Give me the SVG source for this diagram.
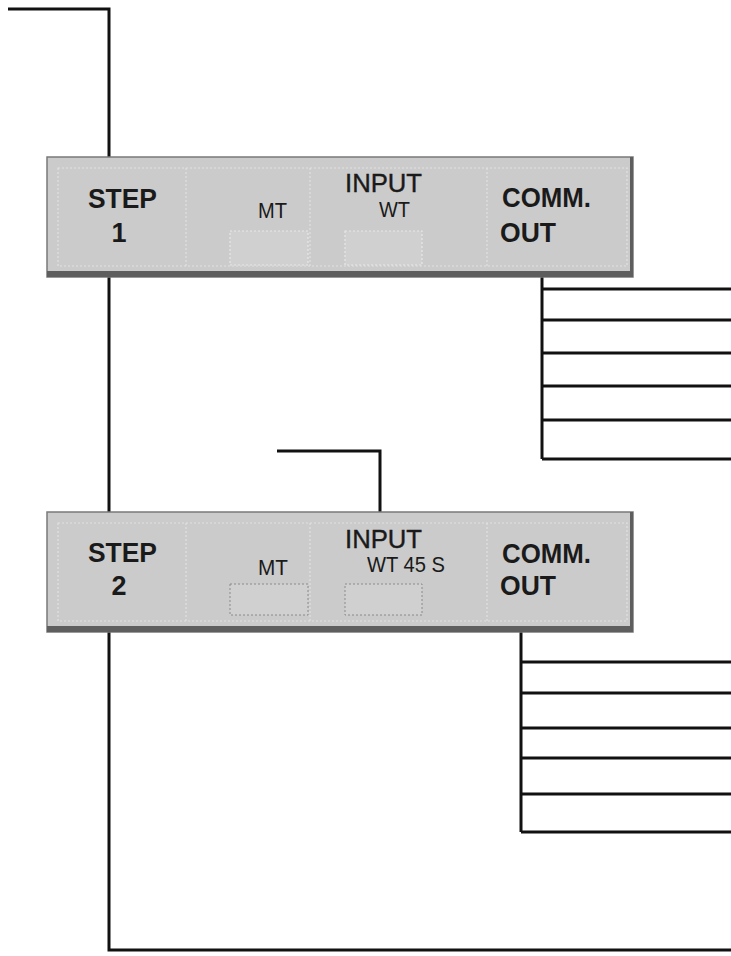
<svg xmlns="http://www.w3.org/2000/svg" width="731" height="956" viewBox="0 0 731 956">
<style>
.box{fill:#cbcbcb;stroke:#7a7a7a;stroke-width:1.5}
.shadow{fill:#5e5e5e}
.inner{fill:none;stroke:#e2e2e2;stroke-width:1.2;stroke-dasharray:2 2}
.cell{fill:#d0d0d0;stroke:#e8e8e8;stroke-width:1.2;stroke-dasharray:2 2}
.cell2{fill:#d0d0d0;stroke:#8a8a8a;stroke-width:1;stroke-dasharray:2 2}
.big{font-family:"Liberation Sans",Arial,sans-serif;font-size:27px;font-weight:bold;fill:#1a1a1a}
.inp{font-family:"Liberation Sans",Arial,sans-serif;font-size:26px;fill:#1a1a1a;stroke:#1a1a1a;stroke-width:0.4}
.sm{font-family:"Liberation Sans",Arial,sans-serif;font-size:22px;fill:#1a1a1a}
.wire{fill:none;stroke:#111;stroke-width:3}
</style>
<rect width="731" height="956" fill="#ffffff"/>
<g id="connectors">
<path class="wire" d="M8 9H109V157"/>
<path class="wire" d="M109 277V512"/>
<path class="wire" d="M109 632V950H731"/>
<path class="wire" d="M542 277V459"/>
<path class="wire" d="M542 289H731M542 320H731M542 353H731M542 386H731M542 420H731M542 459H731"/>
<path class="wire" d="M277 451H380V512"/>
<path class="wire" d="M521 632V832"/>
<path class="wire" d="M521 662H731M521 693H731M521 728H731M521 758H731M521 794H731M521 832H731"/>
</g>
<g id="step1">
<rect class="box" x="47" y="157" width="586" height="120"/>
<rect class="shadow" x="47" y="271" width="586" height="6"/>
<rect class="shadow" x="630" y="157" width="3" height="120"/>
<rect class="inner" x="58" y="168" width="569" height="98"/>
<path class="inner" d="M186 168V266M310 168V266M487 168V266"/>
<rect class="cell" x="230" y="231" width="78" height="34"/>
<rect class="cell" x="345" y="231" width="77" height="34"/>
<text class="big" x="88" y="208" textLength="69" lengthAdjust="spacingAndGlyphs">STEP</text>
<text class="big" x="119" y="242" text-anchor="middle">1</text>
<text class="sm" x="258" y="218" textLength="29" lengthAdjust="spacingAndGlyphs">MT</text>
<text class="inp" x="345" y="192" textLength="77" lengthAdjust="spacingAndGlyphs">INPUT</text>
<text class="sm" x="379" y="217" textLength="31" lengthAdjust="spacingAndGlyphs">WT</text>
<text class="big" x="502" y="207" textLength="89" lengthAdjust="spacingAndGlyphs">COMM.</text>
<text class="big" x="500" y="242" textLength="56" lengthAdjust="spacingAndGlyphs">OUT</text>
</g>
<g id="step2">
<rect class="box" x="47" y="512" width="586" height="120"/>
<rect class="shadow" x="47" y="626" width="586" height="6"/>
<rect class="shadow" x="630" y="512" width="3" height="120"/>
<rect class="inner" x="58" y="523" width="569" height="98"/>
<path class="inner" d="M186 523V621M310 523V621M487 523V621"/>
<rect class="cell2" x="230" y="584" width="78" height="31"/>
<rect class="cell2" x="345" y="584" width="77" height="31"/>
<text class="big" x="88" y="562" textLength="69" lengthAdjust="spacingAndGlyphs">STEP</text>
<text class="big" x="119" y="595" text-anchor="middle">2</text>
<text class="sm" x="258" y="575" textLength="30" lengthAdjust="spacingAndGlyphs">MT</text>
<text class="inp" x="345" y="548" textLength="77" lengthAdjust="spacingAndGlyphs">INPUT</text>
<text class="sm" x="367" y="572" textLength="78" lengthAdjust="spacingAndGlyphs">WT 45 S</text>
<text class="big" x="502" y="563" textLength="89" lengthAdjust="spacingAndGlyphs">COMM.</text>
<text class="big" x="500" y="595" textLength="56" lengthAdjust="spacingAndGlyphs">OUT</text>
</g>
</svg>
